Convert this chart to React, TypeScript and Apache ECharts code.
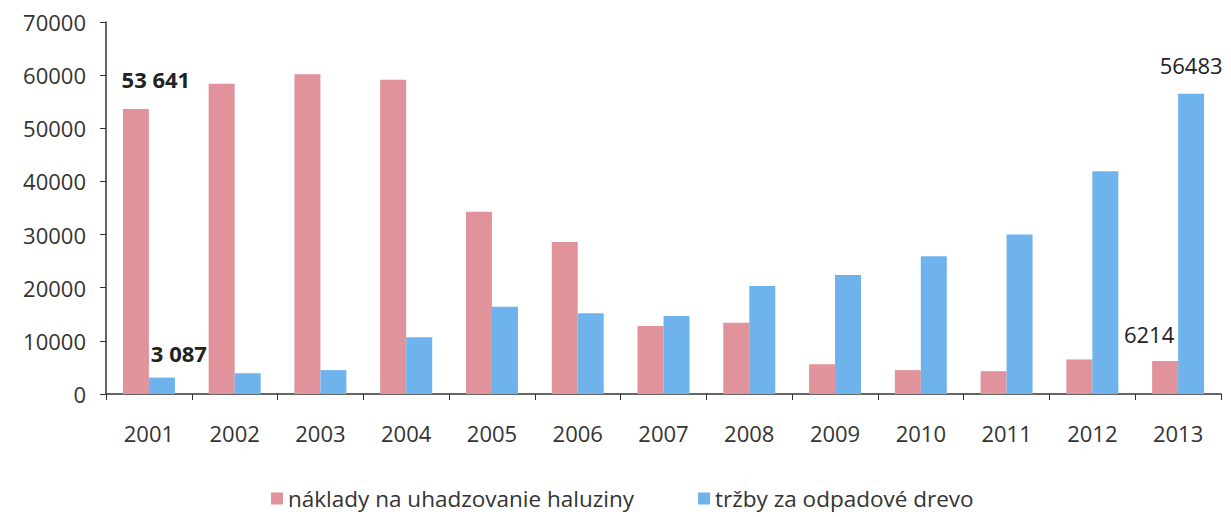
import React, { useEffect, useRef } from "react";
import * as echarts from "echarts";

const years = ["2001", "2002", "2003", "2004", "2005", "2006", "2007", "2008", "2009", "2010", "2011", "2012", "2013"];
const costs = [53641, 58400, 60150, 59150, 34300, 28600, 12800, 13400, 5600, 4500, 4300, 6500, 6214];
const revenues = [3087, 3900, 4500, 10700, 16400, 15200, 14700, 20300, 22400, 25900, 30000, 41900, 56483];
const costName = "náklady na uhadzovanie haluziny";
const revenueName = "tržby za odpadové drevo";
const yTicks = [0, 70000, 10000];

const FONT = "'Open Sans', sans-serif";

export default function App() {
  const ref = useRef<HTMLDivElement>(null);
  useEffect(() => {
    if (!ref.current) return;
    const chart = echarts.init(ref.current, undefined, { renderer: "svg" });
    const costData = costs.map((v, i) => {
      if (i === 0)
        return {
          value: v,
          label: {
            show: true,
            position: "top",
            formatter: "53 641",
            fontWeight: "bold",
            offset: [20, -14],
          },
        };
      if (i === 12)
        return {
          value: v,
          label: { show: true, position: "top", formatter: "6214", offset: [-16, -11] },
        };
      return v;
    });
    const revData = revenues.map((v, i) => {
      if (i === 0)
        return {
          value: v,
          label: {
            show: true,
            position: "top",
            formatter: "3 087",
            fontWeight: "bold",
            offset: [17, -9],
          },
        };
      if (i === 12)
        return {
          value: v,
          label: { show: true, position: "top", formatter: "56483", offset: [0, -13] },
        };
      return v;
    });
    chart.setOption({
      animation: false,
      backgroundColor: "#ffffff",
      textStyle: { fontFamily: FONT },
      grid: { left: 106, right: 10, top: 22, bottom: 123, containLabel: false },
      legend: {
        left: 271,
        top: 487,
        itemWidth: 12,
        itemHeight: 12,
        itemGap: 64,
        icon: "rect",
        padding: 0,
        textStyle: { fontSize: 22.5, color: "#333", fontFamily: FONT },
        data: [costName, revenueName],
      },
      xAxis: {
        type: "category",
        data: years,
        axisLine: { lineStyle: { color: "#333", width: 1.5 } },
        axisTick: { show: true, alignWithLabel: false, length: 6, lineStyle: { color: "#333" } },
        axisLabel: { fontSize: 22, color: "#333", margin: 28, fontFamily: FONT },
      },
      yAxis: {
        type: "value",
        min: yTicks[0],
        max: yTicks[1],
        interval: yTicks[2],
        axisLine: { show: true, lineStyle: { color: "#333", width: 1.5 } },
        axisTick: { show: true, length: 6, lineStyle: { color: "#333" } },
        splitLine: { show: false },
        axisLabel: {
          fontSize: 22,
          color: "#333",
          margin: 20,
          fontFamily: FONT,
          formatter: (v: number) => String(v),
        },
      },
      series: [
        {
          name: costName,
          type: "bar",
          data: costData,
          barWidth: 26,
          barGap: "0%",
          itemStyle: { color: "#e0939a" },
          label: { fontSize: 22, color: "#222", fontFamily: FONT },
        },
        {
          name: revenueName,
          type: "bar",
          data: revData,
          barWidth: 26,
          barGap: "0%",
          itemStyle: { color: "#6fb3ec" },
          label: { fontSize: 22, color: "#222", fontFamily: FONT },
        },
      ],
    });
    return () => chart.dispose();
  }, []);
  return (
    <div
      ref={ref}
      style={{ position: "absolute", left: 0, top: 0, width: 1231, height: 517 }}
    />
  );
}
